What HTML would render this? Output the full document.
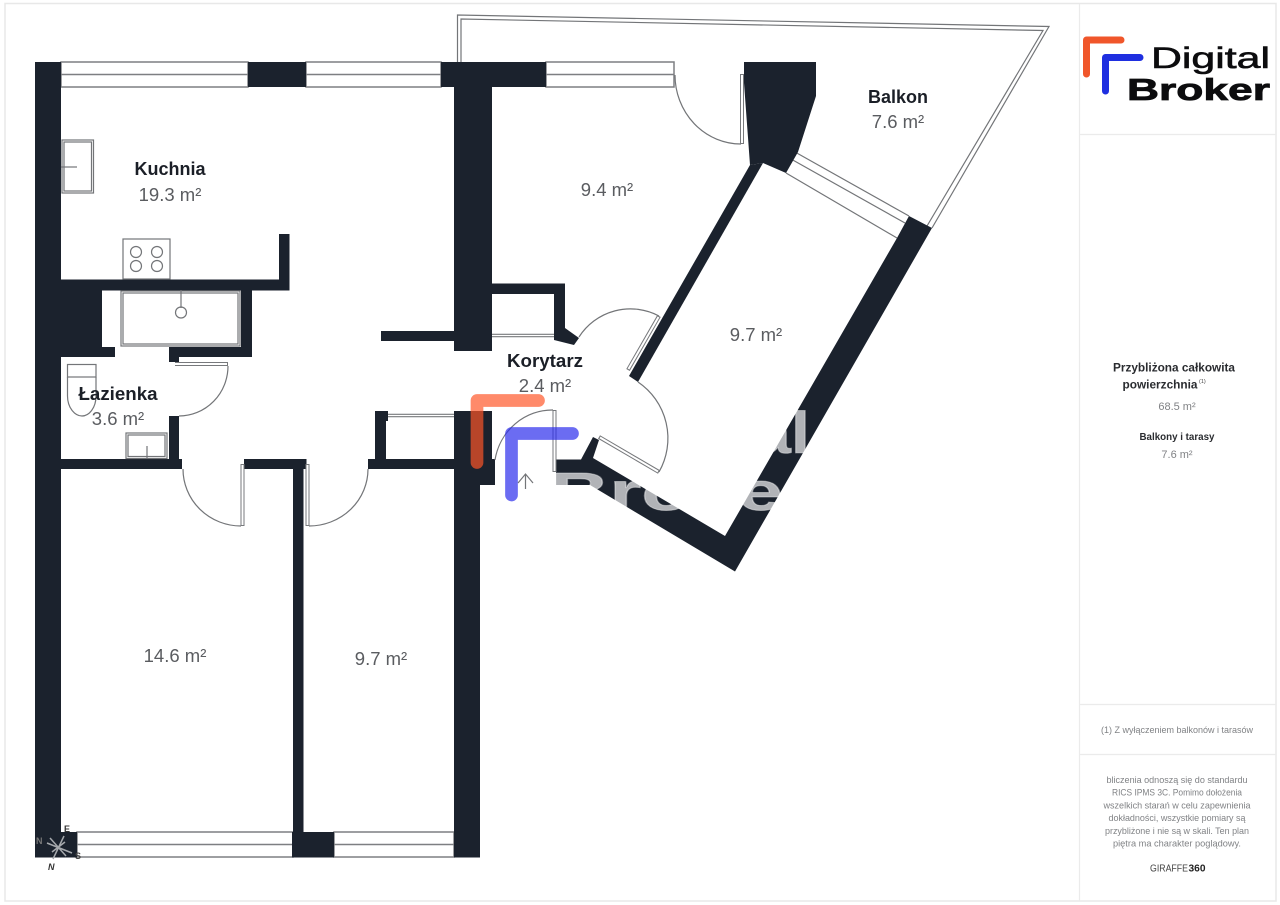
<!DOCTYPE html>
<html><head><meta charset="utf-8"><title>Plan</title>
<style>
html,body{margin:0;padding:0;background:#fff;width:1280px;height:905px;overflow:hidden}
svg{display:block}
text{font-family:"Liberation Sans",sans-serif}
.n{font-weight:700;font-size:18px;fill:#1b1f27;text-anchor:middle}
.a{font-size:18.5px;fill:#5a5c60;text-anchor:middle}
.p{font-size:9.4px;fill:#808285;text-anchor:middle}
.b{font-weight:700;font-size:11.5px;fill:#2a2c30;text-anchor:middle}
.w{fill:#1b222d}
.l{fill:#fff;stroke:#7d7f82;stroke-width:1.5}
.t{fill:none;stroke:#737578;stroke-width:1.2}
.d{fill:none;stroke:#77797c;stroke-width:4}
.e{fill:none;stroke:#fff;stroke-width:2}
</style></head><body>
<svg width="1280" height="905" viewBox="0 0 1280 905" xmlns="http://www.w3.org/2000/svg">
<rect width="1280" height="905" fill="#fff"/>
<rect x="5" y="3.500" width="1271" height="897.500" fill="none" stroke="#e8e8e8" stroke-width="1.500"/>
<path d="M1079.500 4V901M1079 134.500H1276M1079 704.500H1276M1079 754.500H1276" stroke="#ebebeb" stroke-width="1.200" fill="none"/>

<!-- balcony rail -->
<path class="t" d="M457.500 62V15L1049 26.500L932 228M461 62V19L1043 30.500L927 226"/>

<!-- windows -->
<g class="l">
<rect x="61" y="62" width="187" height="25"/><rect x="306" y="62" width="135" height="25"/><rect x="546" y="62" width="128" height="25"/>
<rect x="77" y="832" width="216" height="25"/><rect x="334" y="832" width="120" height="25"/>
</g>
<path d="M61 74.500H248M306 74.500H441M546 74.500H674M77 844.500H293M334 844.500H454" fill="none" stroke="#7d7f82" stroke-width="1.500"/>
<path class="t" d="M795 152L909 216M791 159L905 223M786 173L897 238"/>

<!-- walls -->
<g class="w">
<rect x="35" y="62" width="26" height="795.500"/>
<rect x="35" y="832" width="42" height="25.500"/>
<rect x="248" y="62" width="58" height="25"/>
<rect x="441" y="62" width="105" height="25"/>
<rect x="454" y="87" width="38" height="264"/>
<rect x="381" y="331" width="73" height="10"/>
<rect x="61" y="279.500" width="228.500" height="11"/>
<rect x="279" y="234" width="10.500" height="50"/>
<rect x="61" y="290" width="41" height="57"/>
<rect x="61" y="347" width="54" height="10"/>
<rect x="241" y="290" width="11" height="67"/>
<rect x="169" y="347" width="83" height="10"/>
<rect x="169" y="357" width="10" height="5"/>
<rect x="169" y="416" width="10" height="44"/>
<rect x="61" y="459" width="121" height="10"/>
<rect x="244" y="459" width="62.500" height="10"/>
<rect x="293" y="469" width="10.500" height="364"/>
<rect x="292" y="832" width="42" height="25.500"/>
<rect x="368" y="459" width="86" height="10"/>
<rect x="375" y="420" width="11" height="40"/>
<rect x="375" y="411" width="13" height="10"/>
<rect x="454" y="411" width="38" height="50"/>
<rect x="454" y="459" width="41" height="26"/>
<rect x="454" y="485" width="26" height="372.500"/>
<rect x="492" y="283.500" width="73" height="10.500"/>
<rect x="554" y="294" width="11" height="46"/>
<polygon points="554,340 565,328 579,338 574,345"/>
<polygon points="750,165 763,163 638,382 629,376"/>
<polygon points="744,62 816,62 816,96 798,152 786,173 763,163 750,165 744,83"/>
<polygon points="909,216 932,228 735,571.500 590,485 556,485 556,459.500 581,459.500 593,437 599,440 593,458 725,536 897,238"/>
</g>

<!-- watermark -->
<g fill="#fff" fill-opacity=".66" font-weight="700" stroke="#fff" stroke-opacity=".4" stroke-width="1">
<text x="600" y="453" font-size="58" textLength="210" lengthAdjust="spacingAndGlyphs">Digital</text>
<text x="550" y="510" font-size="54" textLength="265" lengthAdjust="spacingAndGlyphs">Broker</text>
</g>

<!-- thin double lines -->
<path d="M492 335.500H554M388 415.500H454" stroke="#77797c" stroke-width="3.400" fill="none"/>
<path d="M492 335.500H554M388 415.500H454" stroke="#fff" stroke-width="1.300" fill="none"/>

<!-- door leaves -->
<path class="d" d="M742 74V144M175 364H228M242.500 464V526M307.500 464V526M554.500 410V472M659 316L628 370M599 437L659 472"/>
<path class="e" d="M742 75V143M175 364H227M242.500 465V525M307.500 465V525M554.500 411V471M658.500 317L628.500 369M600 437.500L658 471.500"/>

<!-- door swings -->
<path class="t" d="M675 75A66 69 0 0 0 741 144"/>
<path class="t" d="M228 366A49 50 0 0 1 179 416"/>
<path class="t" d="M183 469A58 57 0 0 0 241 526"/>
<path class="t" d="M309 526A59 57 0 0 0 368 469"/>
<path class="t" d="M553 410A58 60 0 0 0 495 460"/>
<path class="t" d="M579 337A61 61 0 0 1 659 316"/>
<path class="t" d="M638 382A68 68 0 0 1 659 472"/>
<path class="t" d="M525.500 489V474M518 483L525.500 474L533 483"/>

<!-- fixtures -->
<rect class="t" x="62" y="140" width="31.500" height="53"/><rect class="t" x="64" y="142" width="27.500" height="49"/>
<path class="t" d="M61 167H77"/>
<rect class="t" x="123" y="239" width="47" height="40"/>
<circle class="t" cx="136" cy="252" r="5.500"/><circle class="t" cx="157" cy="252" r="5.500"/>
<circle class="t" cx="136" cy="266" r="5.500"/><circle class="t" cx="157" cy="266" r="5.500"/>
<rect class="t" x="121" y="291" width="119" height="55"/><rect class="t" x="123" y="293" width="115" height="51"/>
<path class="t" d="M181 290V308"/><circle class="t" cx="181" cy="312.500" r="5.500"/>
<rect class="t" x="67.500" y="364.500" width="28.500" height="12.500"/>
<path class="t" d="M67.500 377V396C67.500 408 75 416 82 416C89 416 96 408 96 396V377"/>
<rect class="t" x="126" y="433" width="41" height="25.500"/><rect class="t" x="128" y="435" width="37" height="21.500"/>
<path class="t" d="M147 446V459"/>

<!-- compass -->
<path d="M47 843L72 853M64 836L53 859M50 838L66 856M52 852L65 842" stroke="#a5a8ac" stroke-width="1.500" fill="none"/>
<g font-size="9" font-weight="700">
<text x="64" y="832" fill="#333">E</text><text x="75" y="859" fill="#444">S</text>
<text x="36" y="844" fill="#777">N</text><text x="48" y="870" fill="#333" font-style="italic">N</text>
</g>

<!-- labels -->
<text class="n" x="170" y="175" textLength="71" lengthAdjust="spacingAndGlyphs">Kuchnia</text>
<text class="a" x="170" y="201">19.3 m²</text>
<text class="n" x="898" y="103" textLength="60" lengthAdjust="spacingAndGlyphs">Balkon</text>
<text class="a" x="898" y="128">7.6 m²</text>
<text class="a" x="607" y="196">9.4 m²</text>
<text class="a" x="756" y="341">9.7 m²</text>
<text class="n" x="545" y="367" textLength="76" lengthAdjust="spacingAndGlyphs">Korytarz</text>
<text class="a" x="545" y="392">2.4 m²</text>
<text class="n" x="118" y="400" textLength="79" lengthAdjust="spacingAndGlyphs">Łazienka</text>
<text class="a" x="118" y="425">3.6 m²</text>
<text class="a" x="175" y="662">14.6 m²</text>
<text class="a" x="381" y="665">9.7 m²</text>

<!-- overlay marks -->
<path d="M477 462.500V400.500H538.500" fill="none" stroke="#ff5527" stroke-opacity=".69" stroke-width="12.700" stroke-linecap="round" stroke-linejoin="round"/>
<path d="M511.500 495V433.500H572.500" fill="none" stroke="#282aec" stroke-opacity=".69" stroke-width="12.700" stroke-linecap="round" stroke-linejoin="round"/>

<!-- logo -->
<path d="M1086.500 74V40H1121" fill="none" stroke="#f0562a" stroke-width="7" stroke-linecap="round" stroke-linejoin="round"/>
<path d="M1105.500 91V57.500H1140" fill="none" stroke="#1f2fe0" stroke-width="7" stroke-linecap="round" stroke-linejoin="round"/>
<text x="1151" y="68" font-size="30" fill="#0c0c0e" stroke="#0c0c0e" stroke-width=".6" textLength="119" lengthAdjust="spacingAndGlyphs">Digital</text>
<text x="1127" y="100" font-size="31" font-weight="700" fill="#0c0c0e" stroke="#0c0c0e" stroke-width=".8" textLength="143" lengthAdjust="spacingAndGlyphs">Broker</text>

<!-- panel text -->
<text class="b" x="1174" y="371.500" textLength="122" lengthAdjust="spacingAndGlyphs">Przybliżona całkowita</text>
<text class="b" x="1160" y="388.500" textLength="75" lengthAdjust="spacingAndGlyphs">powierzchnia</text>
<text x="1199" y="383" font-size="5.500" fill="#444">(1)</text>
<text class="p" x="1177" y="410" style="font-size:11px">68.5 m²</text>
<text class="b" x="1177" y="440" style="font-size:10px" textLength="75" lengthAdjust="spacingAndGlyphs">Balkony i tarasy</text>
<text class="p" x="1177" y="458" style="font-size:11px">7.6 m²</text>
<text class="p" x="1177" y="733" textLength="152" lengthAdjust="spacingAndGlyphs">(1) Z wyłączeniem balkonów i tarasów</text>
<text class="p" x="1177" y="783" textLength="141" lengthAdjust="spacingAndGlyphs">bliczenia odnoszą się do standardu</text>
<text class="p" x="1177" y="795.500" textLength="130" lengthAdjust="spacingAndGlyphs">RICS IPMS 3C. Pomimo dołożenia</text>
<text class="p" x="1177" y="808.500" textLength="147" lengthAdjust="spacingAndGlyphs">wszelkich starań w celu zapewnienia</text>
<text class="p" x="1177" y="821" textLength="137" lengthAdjust="spacingAndGlyphs">dokładności, wszystkie pomiary są</text>
<text class="p" x="1177" y="834" textLength="144" lengthAdjust="spacingAndGlyphs">przybliżone i nie są w skali. Ten plan</text>
<text class="p" x="1177" y="846.500" textLength="128" lengthAdjust="spacingAndGlyphs">piętra ma charakter poglądowy.</text>
<text x="1150" y="871.500" font-size="10" fill="#444" textLength="38" lengthAdjust="spacingAndGlyphs">GIRAFFE</text>
<text x="1188.500" y="871.500" font-size="10" font-weight="700" fill="#222" textLength="17" lengthAdjust="spacingAndGlyphs">360</text>
</svg>
</body></html>
